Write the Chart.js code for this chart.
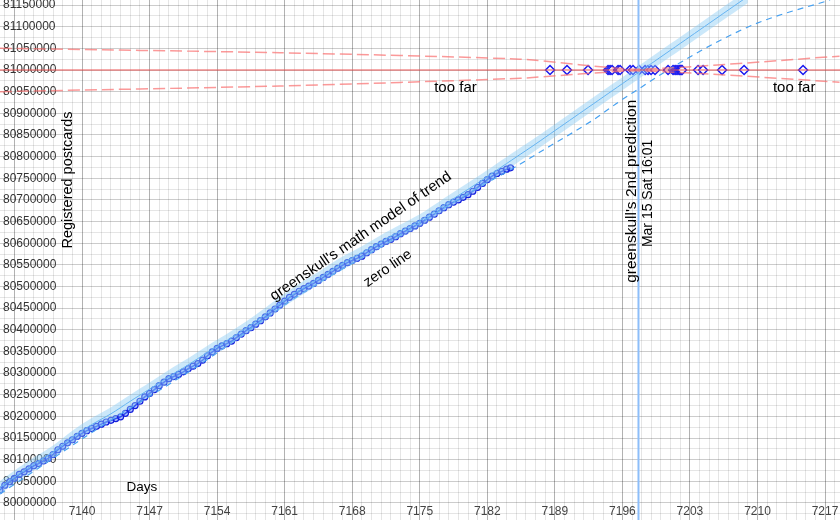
<!DOCTYPE html>
<html>
<head>
<meta charset="utf-8">
<script src="https://cdn.jsdelivr.net/npm/chart.js@4.4.1/dist/chart.umd.min.js"></script>
<style>
  html, body { margin: 0; padding: 0; background: #fff; }
</style>
</head>
<body>
<canvas id="chart" width="840" height="520"></canvas>
<script>
// registered postcards
const dataDays = [
  7131.5, 7132, 7132.5, 7133, 7133.5, 7134, 7134.5, 7135, 7135.5, 7136, 7136.5, 7137, 7137.5,
  7138, 7138.5, 7139, 7139.5, 7140, 7140.5, 7141, 7141.5, 7142, 7142.5, 7143, 7143.5, 7144,
  7144.5, 7145, 7145.5, 7146, 7146.5, 7147, 7147.5, 7148, 7148.5, 7149, 7149.5, 7150, 7150.5,
  7151, 7151.5, 7152, 7152.5, 7153, 7153.5, 7154, 7154.5, 7155, 7155.5, 7156, 7156.5, 7157,
  7157.5, 7158, 7158.5, 7159, 7159.5, 7160, 7160.5, 7161, 7161.5, 7162, 7162.5, 7163, 7163.5,
  7164, 7164.5, 7165, 7165.5, 7166, 7166.5, 7167, 7167.5, 7168, 7168.5, 7169, 7169.5, 7170,
  7170.5, 7171, 7171.5, 7172, 7172.5, 7173, 7173.5, 7174, 7174.5, 7175, 7175.5, 7176, 7176.5,
  7177, 7177.5, 7178, 7178.5, 7179, 7179.5, 7180, 7180.5, 7181, 7181.5, 7182, 7182.5, 7183,
  7183.5, 7184, 7184.4
];
const dataCounts = [
  80030000, 80041000, 80049000, 80057000, 80066000, 80072000, 80079000, 80086000, 80091000, 80097000, 80103000, 80112000, 80123000,
  80131000, 80139000, 80146000, 80154000, 80161000, 80167000, 80172000, 80177000, 80182000, 80187000, 80191000, 80195000, 80199000,
  80207000, 80216000, 80225000, 80235000, 80245000, 80253000, 80262000, 80271000, 80279000, 80287000, 80292000, 80297000, 80303000,
  80310000, 80316000, 80322000, 80330000, 80340000, 80349000, 80357000, 80363000, 80368000, 80374000, 80382000, 80390000, 80398000,
  80405000, 80413000, 80421000, 80430000, 80439000, 80448000, 80457000, 80466000, 80475000, 80482000, 80489000, 80495000, 80501000,
  80507000, 80514000, 80521000, 80528000, 80535000, 80542000, 80549000, 80555000, 80560000, 80565000, 80570000, 80578000, 80585000,
  80592000, 80598000, 80604000, 80609000, 80615000, 80622000, 80628000, 80634000, 80640000, 80646000, 80653000, 80660000, 80667000,
  80675000, 80682000, 80689000, 80695000, 80700000, 80706000, 80712000, 80720000, 80729000, 80738000, 80747000, 80755000, 80761000,
  80766000, 80771000, 80774000
];

// greenskull's math model of trend
const modelDays = [
  7131.5, 7133, 7135, 7137, 7139, 7141, 7143, 7145, 7147, 7149, 7151, 7153, 7155, 7157, 7159,
  7161, 7163, 7165, 7167, 7169, 7171, 7173, 7175, 7177, 7179, 7181, 7183, 7185, 7187, 7189,
  7191, 7193, 7195, 7197, 7199, 7201, 7203, 7205, 7207, 7209
];
const modelCounts = [
  80036000, 80060000, 80090000, 80118000, 80152000, 80181000, 80206000, 80235000, 80263000, 80292000, 80319000, 80348000, 80375000, 80404000, 80436000,
  80469000, 80498000, 80526000, 80554000, 80578000, 80604000, 80628000, 80652000, 80681000, 80710000, 80739000, 80769000, 80799000, 80829000, 80860000,
  80891000, 80922000, 80953000, 80984000, 81015000, 81046000, 81077000, 81108000, 81139000, 81170000
];
const modelSpread = 15000;

// zero line
const zeroDays = [7131.5, 7141.86, 7152.23, 7162.59, 7172.96, 7180.21, 7184.36, 7188.5, 7192.96, 7195.76, 7197.83, 7200.73, 7205.81, 7210.27, 7217.52];
const zeroCounts = [80020800, 80175000, 80320000, 80481000, 80618000, 80718000, 80769100, 80824500, 80884500, 80928400, 80958400, 81000000, 81064700, 81110900, 81161700];

// guesses on the 81 000 000 line
const guessDays = [
  7188.5, 7190.26, 7192.44, 7194.51, 7194.72, 7194.93, 7195.55, 7195.76, 7196.79, 7197.1,
  7197.73, 7198.35, 7198.66, 7198.97, 7199.38, 7200.73, 7201.25, 7201.46, 7201.66, 7201.87,
  7201.97, 7202.08, 7202.18, 7203.84, 7204.36, 7206.33, 7208.61, 7214.72
];

const target = 81000000;
const predictionDay = 7197.667;

// "too far" funnel round the target
const funnelDays = [7131.5, 7160.5, 7185.4, 7197.667, 7218.5];
const funnelUpper = [81050000, 81040000, 81025000, 81002000, 81032000];
const funnelLower = [80950000, 80963000, 80981000, 80998000, 80972000];

// axes
const xLabels = [7140, 7147, 7154, 7161, 7168, 7175, 7182, 7189, 7196, 7203, 7210, 7217];
const yLabels = [
  80000000, 80050000, 80100000, 80150000, 80200000, 80250000, 80300000, 80350000,
  80400000, 80450000, 80500000, 80550000, 80600000, 80650000, 80700000, 80750000,
  80800000, 80850000, 80900000, 80950000, 81000000, 81050000, 81100000, 81150000
];
const xMin = 7131.5, xMax = 7218.55;
const yMin = 79960700, yMax = 81161700;

const xGrid = [];
for (let d = Math.ceil(xMin); d <= xMax; d++) xGrid.push(d);
const yGrid = [yLabels[0] - 25000];
yLabels.forEach(v => { yGrid.push(v); if (v + 25000 < yMax) yGrid.push(v + 25000); });

const pts = (xs, ys) => xs.map((x, i) => ({ x: x, y: ys[i] }));
const FONT = '"Liberation Sans", Arial, sans-serif';

const annotations = {
  id: 'annotations',
  afterDatasetsDraw(chart) {
    const { ctx } = chart;
    const x = chart.scales.x, y = chart.scales.y;
    const put = (text, day, count, angle, size) => {
      ctx.save();
      ctx.translate(x.getPixelForValue(day), y.getPixelForValue(count));
      ctx.rotate(angle * Math.PI / 180);
      ctx.font = size + 'px ' + FONT;
      ctx.fillStyle = '#000';
      ctx.textAlign = 'center';
      ctx.textBaseline = 'middle';
      ctx.fillText(text, 0, 0);
      ctx.restore();
    };
    put('Registered postcards', 7138.55, 80745900, -90, 14.5);
    put('Days', 7146.2, 80036000, 0, 13.5);
    put("greenskull's math model of trend", 7168.9, 80616000, -34.5, 15);
    put('zero line', 7171.7, 80542000, -34.5, 14.5);
    put("greenskull's 2nd prediction", 7197.0, 80720000, -90, 15.5);
    put('Mar 15 Sat 16:01', 7198.7, 80715000, -90, 14);
    put('too far', 7178.7, 80958000, 0, 15);
    put('too far', 7213.8, 80958000, 0, 15);
  }
};

new Chart(document.getElementById('chart'), {
  type: 'line',
  data: {
    datasets: [
      {
        label: 'funnel upper',
        data: pts(funnelDays, funnelUpper),
        borderColor: 'rgba(250, 110, 110, 0.7)',
        borderWidth: 1.5,
        borderDash: [12, 5],
        pointRadius: 0,
        tension: 0.2,
        fill: false
      },
      {
        label: 'funnel lower',
        data: pts(funnelDays, funnelLower),
        borderColor: 'rgba(250, 110, 110, 0.7)',
        borderWidth: 1.5,
        borderDash: [12, 5],
        pointRadius: 0,
        tension: 0.2,
        fill: false
      },
      {
        label: 'target',
        data: pts([xMin, xMax], [target, target]),
        borderColor: 'rgb(235, 85, 85)',
        borderWidth: 1.2,
        pointRadius: 0,
        fill: false
      },
      {
        label: 'model high',
        data: pts(modelDays, modelCounts.map(v => v + modelSpread)),
        borderColor: 'transparent',
        backgroundColor: 'rgba(140, 205, 245, 0.45)',
        pointRadius: 0,
        tension: 0.3,
        fill: '+1'
      },
      {
        label: 'model low',
        data: pts(modelDays, modelCounts.map(v => v - modelSpread)),
        borderColor: 'transparent',
        pointRadius: 0,
        tension: 0.3,
        fill: false
      },
      {
        label: 'zero line',
        data: pts(zeroDays, zeroCounts),
        borderColor: 'rgb(70, 160, 240)',
        borderWidth: 1.2,
        borderDash: [6, 5],
        pointRadius: 0,
        cubicInterpolationMode: 'monotone',
        fill: false
      },
      {
        label: 'model',
        data: pts(modelDays, modelCounts),
        borderColor: 'rgb(70, 160, 240)',
        borderWidth: 1,
        pointRadius: 0,
        tension: 0.3,
        fill: false
      },
      {
        label: 'prediction',
        data: pts([predictionDay, predictionDay], [yMin, yMax]),
        borderColor: 'rgb(140, 190, 250)',
        borderWidth: 2,
        pointRadius: 0,
        fill: false
      },
      {
        label: 'postcards',
        data: pts(dataDays, dataCounts),
        borderColor: 'rgb(10, 40, 230)',
        borderWidth: 1.5,
        pointRadius: 3,
        pointBorderWidth: 1.2,
        pointBorderColor: 'rgb(20, 30, 220)',
        pointBackgroundColor: 'rgba(90, 130, 255, 0.45)',
        fill: false
      },
      {
        label: 'guesses',
        data: pts(guessDays, guessDays.map(() => target)),
        showLine: false,
        pointStyle: 'rectRot',
        pointRadius: 4.5,
        pointBorderWidth: 1.5,
        pointBorderColor: 'rgb(25, 25, 240)',
        pointBackgroundColor: '#fff'
      }
    ]
  },
  options: {
    responsive: false,
    animation: false,
    layout: { padding: 0, autoPadding: false },
    plugins: {
      legend: { display: false },
      tooltip: { enabled: false }
    },
    scales: {
      x: {
        type: 'linear',
        min: xMin,
        max: xMax,
        border: { display: false },
        afterBuildTicks: (s) => { s.ticks = xGrid.map(v => ({ value: v })); },
        grid: {
          drawTicks: false,
          lineWidth: 1,
          color: (c) => (c.tick.value - 7140) % 7 === 0 ? 'rgba(0,0,0,0.3)' : 'rgba(0,0,0,0.1)'
        },
        ticks: {
          autoSkip: false,
          maxRotation: 0,
          minRotation: 0,
          mirror: true,
          padding: 1,
          color: '#444',
          font: { family: FONT, size: 12 },
          callback: (v) => xLabels.includes(v) ? String(v) : ''
        },
        afterFit: (s) => { s.height = 0; s.paddingLeft = 0; s.paddingRight = 0; }
      },
      y: {
        type: 'linear',
        min: yMin,
        max: yMax,
        border: { display: false },
        afterBuildTicks: (s) => { s.ticks = yGrid.map(v => ({ value: v })); },
        grid: {
          drawTicks: false,
          lineWidth: 1,
          color: (c) => yLabels.includes(c.tick.value) ? 'rgba(0,0,0,0.2)' : 'rgba(0,0,0,0.1)'
        },
        ticks: {
          autoSkip: false,
          mirror: true,
          padding: 3,
          color: '#333',
          font: { family: FONT, size: 12 },
          callback: (v) => yLabels.includes(v) ? String(v) : ''
        },
        afterFit: (s) => { s.width = 0; s.paddingTop = 0; s.paddingBottom = 0; }
      }
    }
  },
  plugins: [annotations]
});
</script>
</body>
</html>
